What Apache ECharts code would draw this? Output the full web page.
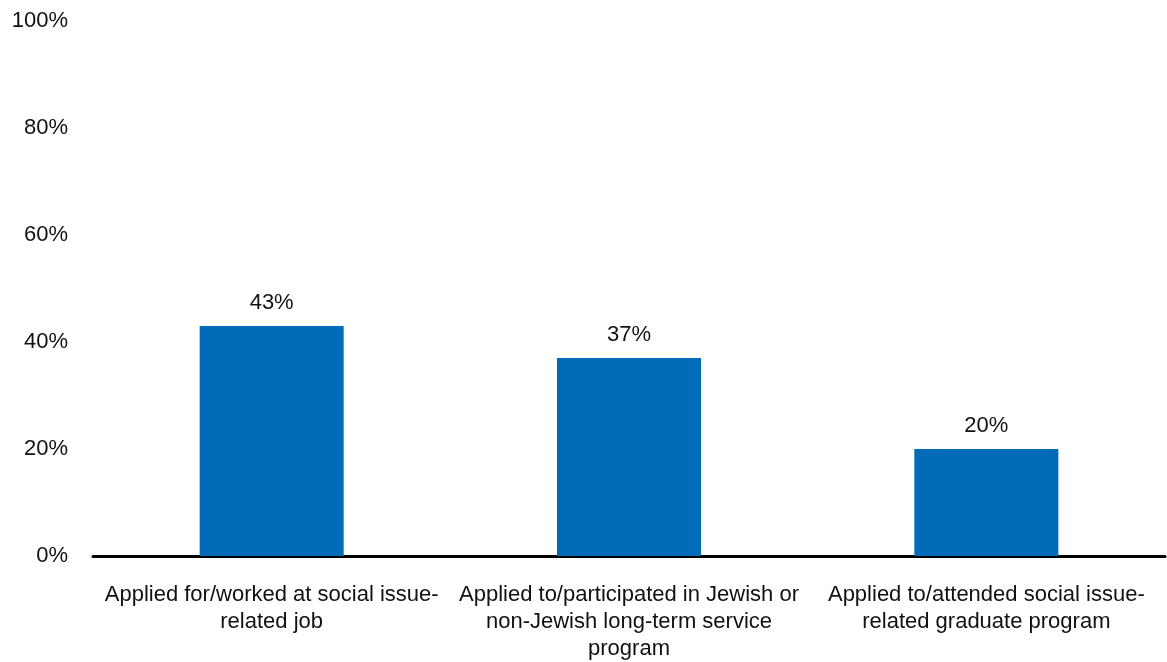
<!DOCTYPE html>
<html>
<head>
<meta charset="utf-8">
<script src="https://cdn.jsdelivr.net/npm/echarts@6/dist/echarts.min.js"></script>
<style>
  html, body { margin: 0; padding: 0; background: #ffffff; }
  #chart { width: 1167px; height: 662px; }
</style>
</head>
<body>
<div id="chart"></div>
<script>
// Activities and share of respondents (percent)
const categories = [
  'Applied for/worked at social issue-\nrelated job',
  'Applied to/participated in Jewish or\nnon-Jewish long-term service\nprogram',
  'Applied to/attended social issue-\nrelated graduate program'
];
const values = [43, 37, 20];
const yTicks = { min: 0, max: 100, interval: 20 };

const FONT = '"Liberation Sans", Arial, sans-serif';
const chart = echarts.init(document.getElementById('chart'), null, { renderer: 'canvas' });

chart.setOption({
  animation: false,
  backgroundColor: '#ffffff',
  grid: { left: 93, right: 2, top: 21, bottom: 105, containLabel: false },
  xAxis: {
    type: 'category',
    data: categories,
    axisLine: { show: true, lineStyle: { color: '#000000', width: 3 } },
    axisTick: { show: false },
    axisLabel: {
      interval: 0,
      color: '#111111',
      fontFamily: FONT,
      fontSize: 22,
      lineHeight: 27,
      margin: 25,
      align: 'center'
    },
    splitLine: { show: false }
  },
  yAxis: {
    type: 'value',
    min: yTicks.min,
    max: yTicks.max,
    interval: yTicks.interval,
    axisLine: { show: false },
    axisTick: { show: false },
    splitLine: { show: false },
    axisLabel: {
      color: '#111111',
      fontFamily: FONT,
      fontSize: 22,
      margin: 25,
      formatter: v => v + '%'
    }
  },
  series: [{
    type: 'bar',
    data: values,
    barWidth: 144,
    itemStyle: { color: '#006BB6' },
    label: {
      show: true,
      position: 'top',
      distance: 12,
      color: '#111111',
      fontFamily: FONT,
      fontSize: 22,
      formatter: p => p.value + '%'
    }
  }]
});
</script>
</body>
</html>
